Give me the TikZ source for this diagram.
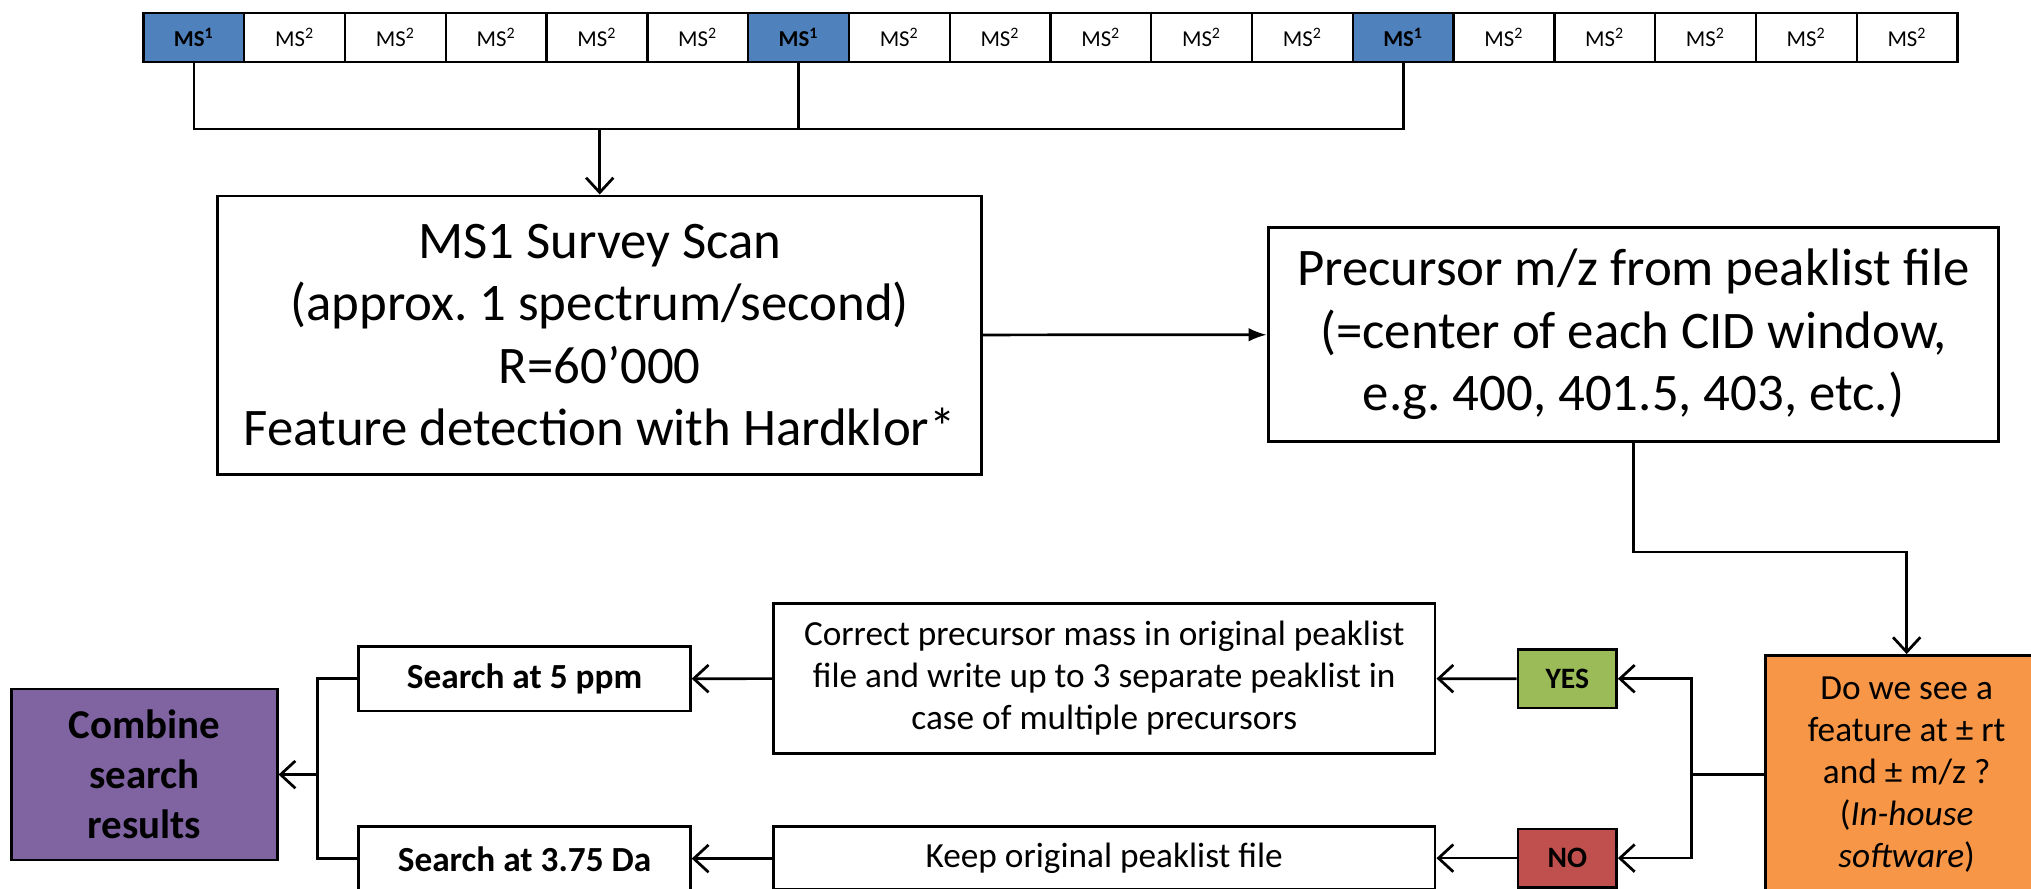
\documentclass[tikz,border=0pt]{standalone}
\usepackage{fontspec}
\setmainfont{Carlito}
\usepackage{tikz}
\usetikzlibrary{arrows.meta,positioning}
\definecolor{msblue}{HTML}{4F81BD}
\definecolor{yesgreen}{HTML}{9BBB59}
\definecolor{nored}{HTML}{C0504D}
\definecolor{askorange}{HTML}{F79646}
\definecolor{endpurple}{HTML}{8064A2}
\frenchspacing

\begin{document}
\begin{tikzpicture}[x=0.02cm, y=-0.02cm, line width=1.2pt]
% STYLES
\tikzset{
    cell/.style={draw, line width=1pt, minimum width=1.556cm, minimum height=0.764cm, inner sep=0pt,
    font=\fontsize{10}{12}\selectfont},
    msone/.style={cell, fill=msblue, font=\fontsize{10}{12}\selectfont\bfseries},
    bigbox/.style={draw, align=center, inner sep=0pt, font=\fontsize{23.2}{27.5}\selectfont},
    box/.style={draw, align=center, inner sep=0pt, font=\fontsize{15.5}{18.5}\selectfont},
    boldbox/.style={box, font=\fontsize{15.5}{18.5}\selectfont\bfseries},
    tag/.style={draw, inner sep=0pt, minimum width=1.52cm, minimum height=0.9cm,
    font=\fontsize{13}{15}\selectfont\bfseries},
    >={Straight Barb[length=6.5pt,width=12pt]}
}
\useasboundingbox (0,0) rectangle (1568,686);

% scan sequence
\foreach \i in {0,...,17}{
  \pgfmathtruncatemacro\k{mod(\i,6)}
  \ifnum\k=0
    \node[msone] (ms\i) at (149.7+77.8*\i, 29) {MS\textsuperscript{1}};
  \else
    \node[cell] (ms\i) at (149.7+77.8*\i, 29) {MS\textsuperscript{2}};
  \fi
}

\node[bigbox, minimum width=11.8cm, minimum height=4.3cm] (survey) at (463,258.7)
  {MS1 Survey Scan\\ (approx. 1 spectrum/second)\\ R=60’000\\ Feature detection with Hardklor*};
\node[bigbox, minimum width=11.28cm, minimum height=3.31cm] (precursor) at (1261,258.3)
  {Precursor m/z from peaklist file\\ (=center of each CID window,\\ e.g. 400, 401.5, 403, etc.)};
\node[box, fill=askorange, minimum width=4.36cm, minimum height=3.68cm] (decide) at (1472,598)
  {Do we see a\\ feature at ± rt\\ and ± m/z ?\\ (\textit{In-house}\\ \textit{software})};
\node[tag, fill=yesgreen] (yes) at (1210,524) {YES};
\node[tag, fill=nored] (no) at (1210,662.5) {NO};
\node[box, minimum width=10.22cm, minimum height=2.31cm] (correct) at (852.5,523.8)
  {Correct precursor mass in original peaklist\\ file and write up to 3 separate peaklist in\\ case of multiple precursors};
\node[box, minimum width=10.22cm, minimum height=0.98cm] (keep) at (852.5,662.5)
  {Keep original peaklist file};
\node[boldbox, minimum width=5.12cm, minimum height=1cm] (search5) at (405,524) {Search at 5 ppm};
\node[boldbox, minimum width=5.12cm, minimum height=1cm] (search375) at (405,663) {Search at 3.75 Da};
\node[draw, fill=endpurple, align=center, inner sep=0pt, minimum width=4.1cm, minimum height=2.64cm,
  font=\fontsize{18}{22}\selectfont\bfseries] (combine) at (111.5,598) {Combine\\ search\\ results};

\coordinate (join) at (463,99.6);
\coordinate (split) at (1305.6,598);
\coordinate (merge) at (245,598);

% Draw the links between
\draw (ms0.south) |- (ms12.south |- join) -- (ms12.south);
\draw (ms6.south) -- (ms6.south |- join);
\draw[->] (join) -- (survey);
\draw[-{Latex[length=8pt,width=6pt]}] (survey) -- (precursor);
\draw[->] (precursor.south) -- ++(0,84) -| (decide.north);
\draw (decide.west) -- (split);
\draw[->] (split) |- (yes);
\draw[->] (split) |- (no);
\path[->]
   (yes) edge (correct)
   (no) edge (keep)
   (correct) edge (search5)
   (keep) edge (search375);
\draw (search5.west) -| (merge) |- (search375.west);
\draw[->] (merge) -- (combine);

\end{tikzpicture}
\end{document}
